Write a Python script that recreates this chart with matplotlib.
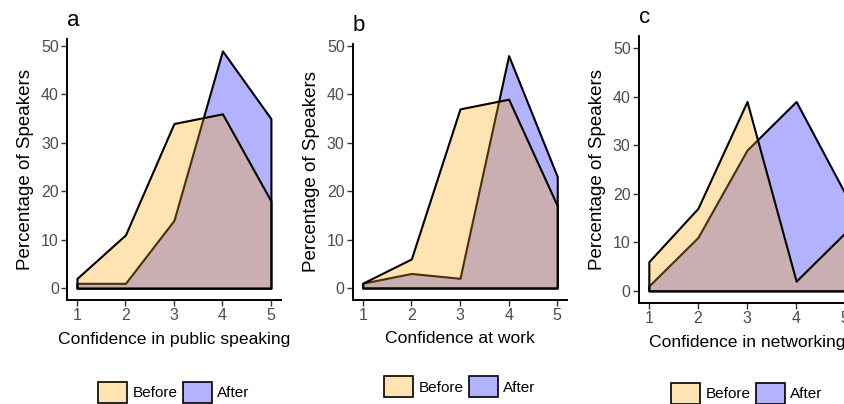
import numpy as np
import matplotlib
matplotlib.use("Agg")
import matplotlib.pyplot as plt
from matplotlib.patches import Patch

plt.rcParams['font.family'] = ['Liberation Sans', 'DejaVu Sans']

# confidence levels on the x axis
levels = [1, 2, 3, 4, 5]

# percentage of speakers per level, before / after
public_before = [2, 11, 34, 36, 18]
public_after  = [1, 1, 14, 49, 35]
work_before   = [1, 6, 37, 39, 17]
work_after    = [1, 3, 2, 48, 23]
network_before = [6, 17, 39, 2, 12]
network_after  = [1, 11, 29, 39, 20]

panel_letters = ['a', 'b', 'c']
x_titles = ['Confidence in public speaking', 'Confidence at work', 'Confidence in networking']
panels = [(public_before, public_after), (work_before, work_after), (network_before, network_after)]

# axes boxes in figure fractions (panel c runs off the right edge, like the original)
boxes = [[0.0797, 0.2574, 0.2528, 0.646],
         [0.4182, 0.2584, 0.2536, 0.6327],
         [0.7571, 0.2500, 0.2560, 0.661]]
ylims = [(-2.45, 51.45), (-2.4, 50.4), (-2.5, 52.5)]
legend_y = [-0.29, -0.275, -0.275]

fig = plt.figure(figsize=(8.44, 4.04), dpi=100)

for i in range(3):
    ax = fig.add_axes(boxes[i])
    before, after = panels[i]
    # after drawn first, before on top (gives the mauve overlap)
    ax.fill_between(levels, 0, after, facecolor=(0, 0, 1, 0.3), edgecolor='black', linewidth=1.5, zorder=2)
    ax.fill_between(levels, 0, before, facecolor=(1, 0.647, 0, 0.3), edgecolor='black', linewidth=1.5, zorder=3)

    ax.set_xlim(0.8, 5.2)
    ax.set_ylim(*ylims[i])
    ax.set_xticks(levels)
    ax.set_yticks([0, 10, 20, 30, 40, 50])
    for s in ['top', 'right']:
        ax.spines[s].set_visible(False)
    for s in ['left', 'bottom']:
        ax.spines[s].set_linewidth(1.4)
        ax.spines[s].set_color('black')
    ax.tick_params(axis='both', colors='#333333', labelcolor='#4d4d4d', labelsize=11.5, length=4, width=1.0, pad=2)

    ax.set_xlabel(x_titles[i], fontsize=12.6, labelpad=6)
    ax.set_ylabel('Percentage of Speakers', fontsize=13.5, labelpad=5)
    ax.text(0.0, 1.03, panel_letters[i], transform=ax.transAxes, fontsize=16, ha='left', va='bottom')

    handles = [Patch(facecolor=(1, 0.647, 0, 0.3), edgecolor='black', linewidth=1.2, label='Before'),
               Patch(facecolor=(0, 0, 1, 0.3), edgecolor='black', linewidth=1.2, label='After')]
    ax.legend(handles=handles, loc='upper center', bbox_to_anchor=(0.5, legend_y[i]), ncol=2,
              frameon=False, fontsize=11, handlelength=1.9, handleheight=1.75,
              handletextpad=0.35, columnspacing=0.35, borderaxespad=0)

fig.savefig('out.png', dpi=100)
